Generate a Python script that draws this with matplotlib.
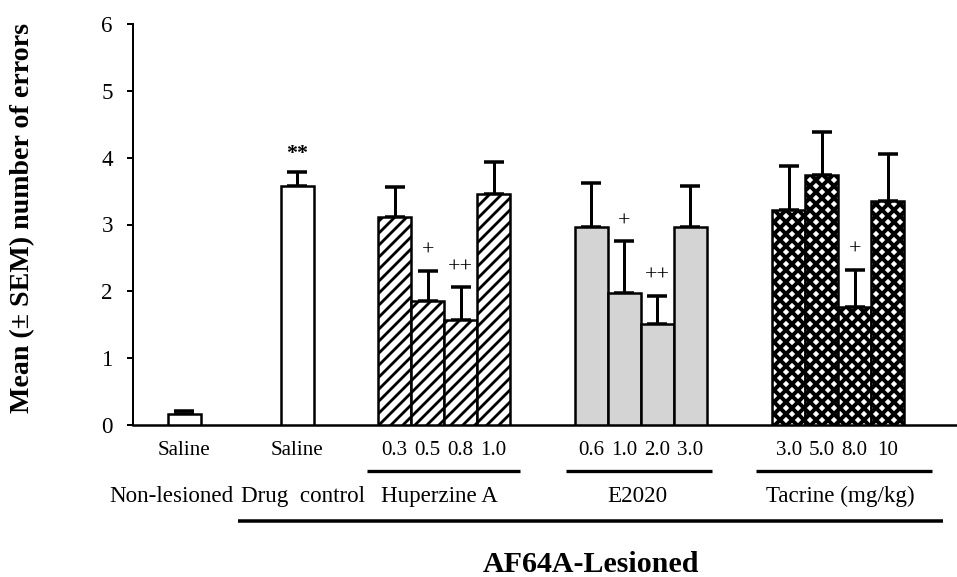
import matplotlib
matplotlib.use("Agg")
import matplotlib.pyplot as plt
import numpy as np

plt.rcParams['font.family'] = ['Liberation Serif', 'DejaVu Serif']
plt.rcParams['hatch.color'] = 'black'

# ---------------- data ----------------
groups = ["Non-lesioned", "Drug  control", "Huperzine A", "E2020", "Tacrine (mg/kg)"]
dose_labels = [["Saline"], ["Saline"], ["0.3", "0.5", "0.8", "1.0"],
               ["0.6", "1.0", "2.0", "3.0"], ["3.0", "5.0", "8.0", "10"]]
means = [[0.16], [3.57], [3.11, 1.86, 1.57, 3.45],
         [2.97, 1.97, 1.51, 2.97], [3.22, 3.74, 1.77, 3.35]]
sems = [[0.05], [0.21], [0.45, 0.45, 0.49, 0.48],
        [0.65, 0.78, 0.42, 0.60], [0.66, 0.65, 0.55, 0.70]]
marks = [[""], ["**"], ["", "+", "++", ""], ["", "+", "++", ""], ["", "", "+", ""]]
ylabel = "Mean (\u00b1 SEM) number of errors"
super_label = "AF64A-Lesioned"
yticks = [0, 1, 2, 3, 4, 5, 6]

# ---------------- layout / style ----------------
group_start = [1.55, 4.97, 7.93, 13.88, 19.87]
face = ['white', 'white', 'white', '#d4d4d4', 'white']
hatches = [None, None, '//', None, 'xx']
hatch_lw = [1.0, 1.0, 2.8, 1.0, 4.0]
label_x = [1.15, 5.15, 9.3, 15.27, 21.42]
group_lines = [None, None, (7.09, 11.73), (13.12, 17.55), (18.88, 24.21)]
long_line = (3.18, 24.55)

fig = plt.figure(figsize=(957 / 72, 577 / 72), dpi=72)
ax = fig.add_axes([133 / 957, 152 / 577, 824 / 957, 401 / 577])

tick_pos, tick_lab = [], []
for g in range(len(groups)):
    n = len(means[g])
    xs = group_start[g] + np.arange(n)
    with plt.rc_context({'hatch.linewidth': hatch_lw[g]}):
        bars = ax.bar(xs, means[g], width=1.0, color=face[g], edgecolor='black',
                      linewidth=2.5, hatch=hatches[g], zorder=3)
    for b in bars:
        if hasattr(b, 'set_hatch_linewidth'):
            b.set_hatch_linewidth(hatch_lw[g])
    ax.errorbar(xs, means[g], yerr=[np.zeros(n), sems[g]], fmt='none',
                ecolor='black', elinewidth=3, capsize=10, capthick=3.5, zorder=2)
    for x, m, s, t in zip(xs, means[g], sems[g], marks[g]):
        if t:
            bold = '*' in t
            ax.annotate(t, (x, m + s), xytext=(0, 13 if bold else 15),
                        textcoords='offset points', ha='center', va='baseline',
                        fontsize=22, fontweight='bold' if bold else 'normal')
    tick_pos.extend(xs)
    tick_lab.extend(dose_labels[g])

trans = ax.get_xaxis_transform()
for g in range(len(groups)):
    ax.text(label_x[g], -0.192, groups[g], transform=trans, ha='center',
            va='baseline', fontsize=23)
    if group_lines[g] is not None:
        ax.plot(group_lines[g], [-0.1147, -0.1147], transform=trans, color='black',
                lw=3.3, clip_on=False, solid_capstyle='butt')
ax.plot(long_line, [-0.2394, -0.2394], transform=trans, color='black', lw=3.5,
        clip_on=False, solid_capstyle='butt')
ax.text(np.mean(long_line), -0.366, super_label, transform=trans, ha='center',
        va='baseline', fontsize=30, fontweight='bold')

ax.set_xlim(0, 24.97)
ax.set_ylim(0, 6)
ax.set_yticks(yticks)
ax.set_yticklabels([str(v) for v in yticks], fontsize=23)
ax.set_xticks(tick_pos)
ax.set_xticklabels(tick_lab, fontsize=21)
ax.tick_params(axis='x', length=0, pad=16)
ax.tick_params(axis='y', direction='out', length=6, width=2, pad=14)
for s in ['top', 'right']:
    ax.spines[s].set_visible(False)
ax.spines['left'].set_linewidth(2)
ax.spines['bottom'].set_linewidth(2.5)

fig.text(23 / 957, 1 - 218 / 577, ylabel, rotation=90, ha='center', va='center',
         fontsize=28, fontweight='bold')

fig.savefig('out.png', dpi=72)
